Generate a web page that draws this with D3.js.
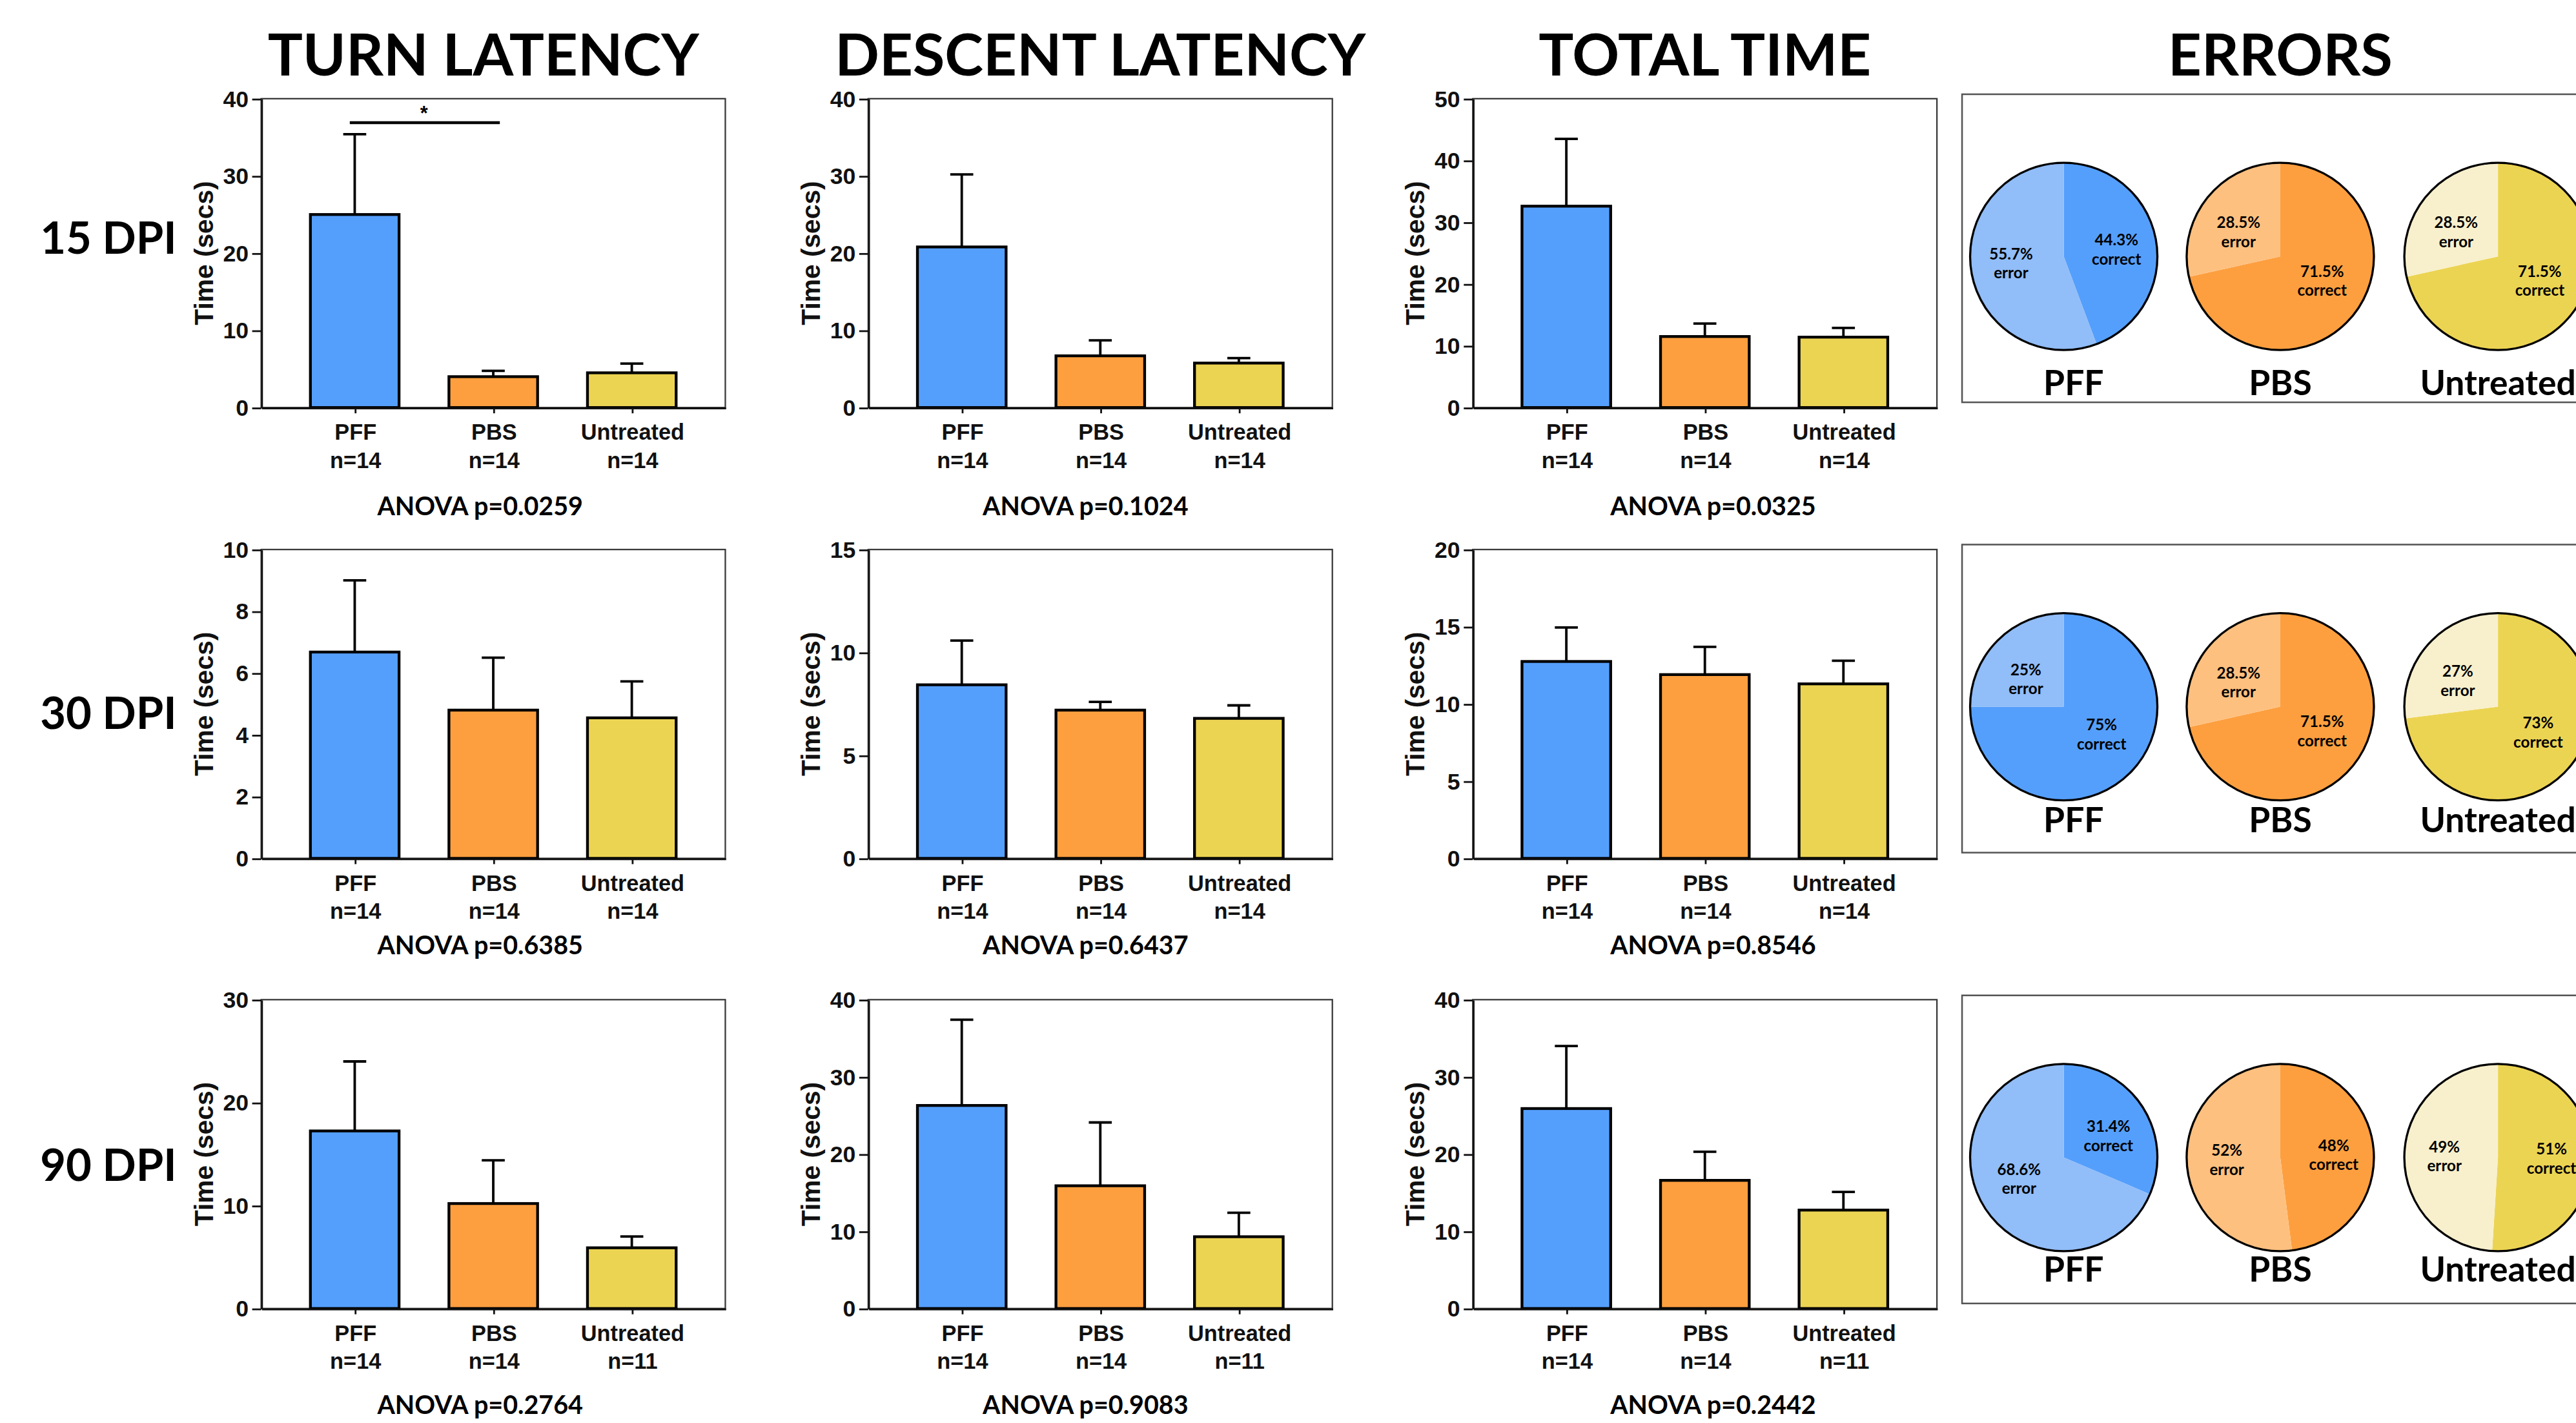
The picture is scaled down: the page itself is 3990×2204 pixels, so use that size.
<!DOCTYPE html>
<html>
<head>
<meta charset="utf-8">
<script src="https://cdn.jsdelivr.net/npm/d3@7"></script>
<style>
  html, body { margin: 0; padding: 0; background: #fff; }
  svg { display: block; }
</style>
</head>
<body>
<script>
// ---- data ----
var groups = ["PFF", "PBS", "Untreated"];
var timepoints = ["15 DPI", "30 DPI", "90 DPI"];
var measures = ["TURN LATENCY", "DESCENT LATENCY", "TOTAL TIME"];
var nLabels = [["n=14", "n=14", "n=14"], ["n=14", "n=14", "n=14"], ["n=14", "n=14", "n=11"]];

// rows = 15, 30, 90 DPI ; columns = PFF, PBS, Untreated
var turnMean = [[25.0, 4.0, 4.5], [6.68, 4.8, 4.55], [17.25, 10.2, 5.9]];
var turnSem = [[10.4, 0.75, 1.2], [2.32, 1.7, 1.18], [6.75, 4.2, 1.1]];
var descentMean = [[20.8, 6.7, 5.76], [8.43, 7.2, 6.8], [26.3, 15.9, 9.3]];
var descentSem = [[9.4, 2.0, 0.64], [2.15, 0.4, 0.63], [11.1, 8.2, 3.1]];
var totalMean = [[32.6, 11.5, 11.4], [12.75, 11.9, 11.3], [25.9, 16.6, 12.75]];
var totalSem = [[10.9, 2.1, 1.5], [2.2, 1.8, 1.5], [8.1, 3.7, 2.35]];

var yMax = [[40, 10, 30], [40, 15, 40], [50, 20, 40]];
var yStep = [[10, 2, 10], [10, 5, 10], [10, 5, 10]];
var anovaP = [["0.0259", "0.6385", "0.2764"], ["0.1024", "0.6437", "0.9083"], ["0.0325", "0.8546", "0.2442"]];
var sigBars = [{ measure: 0, row: 0, from: "PFF", to: "PBS", y: 36.9, label: "*" }];

var correctPct = [[44.3, 71.5, 71.5], [75, 71.5, 73], [31.4, 48, 51]];
var errorPct = [[55.7, 28.5, 28.5], [25, 28.5, 27], [68.6, 52, 49]];

var means = [turnMean, descentMean, totalMean];
var sems = [turnSem, descentSem, totalSem];

// ---- look ----
var barColors = ["#559ffc", "#fd9f3f", "#ecd453"];
var lightColors = ["#91bdf8", "#fec07f", "#f8f0cc"];
var axisFont = "'Liberation Sans', Arial, sans-serif";
var headFont = "Lato, 'Open Sans', sans-serif";

// layout in a 1568 x 866 frame, scaled up by the viewBox
var W = 1568, H = 866;
var colLeft = [159, 528.5, 896.5], plotW = 282.5;
var rowTop = [60, 334.4, 608.4], plotH = 188;
var anovaDx = [-8, -9, 5], anovaDy = [59.8, 52.6, 58.5];
var rowLabelY = [144.5, 434, 709];
var panelX = 1194.3, panelTop = [57.3, 331.4, 605.8], panelH = 187.5;
var pieCx = [1256.2, 1388, 1520.5], pieR = 57;
var pieDy = 98.7, pieLabelDy = [175.5, 167.5, 166.8];

var svg = d3.select("body").append("svg")
    .attr("width", 3990)
    .attr("height", 2204)
    .attr("viewBox", "0 0 " + W + " " + H);

// column titles
measures.forEach(function (t, m) {
    svg.append("text")
        .attr("x", colLeft[m] + plotW / 2 + (m === 0 ? -6 : 0))
        .attr("y", 33)
        .attr("dy", "0.36em")
        .attr("text-anchor", "middle")
        .style("font-family", headFont)
        .style("font-weight", 700)
        .style("font-size", "35.5px")
        .text(t);
});
svg.append("text")
    .attr("x", pieCx[1])
    .attr("y", 33)
    .attr("dy", "0.36em")
    .attr("text-anchor", "middle")
    .style("font-family", headFont)
    .style("font-weight", 700)
    .style("font-size", "35.5px")
    .text("ERRORS");

// row labels
timepoints.forEach(function (t, r) {
    svg.append("text")
        .attr("x", 66)
        .attr("y", rowLabelY[r])
        .attr("dy", "0.36em")
        .attr("text-anchor", "middle")
        .style("font-family", headFont)
        .style("font-weight", 700)
        .style("font-size", "27px")
        .text(t);
});

// bar charts
measures.forEach(function (mt, m) {
    timepoints.forEach(function (tp, r) {
        var g = svg.append("g")
            .attr("transform", "translate(" + colLeft[m] + "," + rowTop[r] + ")");

        var x = d3.scalePoint().domain(groups).range([0, plotW]).padding(0.675);
        var y = d3.scaleLinear().domain([0, yMax[m][r]]).range([plotH, 0]);
        var bw = x.step() * 0.64;

        var data = groups.map(function (d, i) {
            return { g: d, mean: means[m][r][i], sem: sems[m][r][i], color: barColors[i] };
        });

        g.append("rect")
            .attr("width", plotW)
            .attr("height", plotH)
            .attr("fill", "none")
            .attr("stroke", "#3a3a3a")
            .attr("stroke-width", 0.9);

        g.selectAll(".err")
            .data(data)
            .enter().append("path")
            .attr("d", function (d) {
                var top = y(d.mean + d.sem);
                return "M" + x(d.g) + "," + y(d.mean) + "V" + top +
                    "M" + (x(d.g) - 7) + "," + top + "H" + (x(d.g) + 7);
            })
            .attr("fill", "none")
            .attr("stroke", "#000")
            .attr("stroke-width", 1.5);

        g.selectAll(".bar")
            .data(data)
            .enter().append("rect")
            .attr("x", function (d) { return x(d.g) - bw / 2; })
            .attr("y", function (d) { return y(d.mean); })
            .attr("width", bw)
            .attr("height", function (d) { return plotH - y(d.mean); })
            .attr("fill", function (d) { return d.color; })
            .attr("stroke", "#000")
            .attr("stroke-width", 1.7);

        // y axis
        var ya = g.append("g")
            .call(d3.axisLeft(y)
                .tickValues(d3.range(0, yMax[m][r] + 0.001, yStep[m][r]))
                .tickSize(5.5)
                .tickSizeOuter(0)
                .tickPadding(2.2));
        ya.select(".domain").attr("stroke", "#111").attr("stroke-width", 1.1);
        ya.selectAll(".tick line").attr("stroke", "#111").attr("stroke-width", 1.1);
        ya.selectAll(".tick text")
            .attr("fill", "#111")
            .style("font-family", axisFont)
            .style("font-weight", "bold")
            .style("font-size", "14px");

        // x axis
        var xa = g.append("g")
            .attr("transform", "translate(0," + plotH + ")")
            .call(d3.axisBottom(x).tickSize(3.5).tickSizeOuter(0).tickPadding(5));
        xa.select(".domain").attr("stroke", "#111").attr("stroke-width", 1.1);
        xa.selectAll(".tick line").attr("stroke", "#111").attr("stroke-width", 1.1);
        xa.selectAll(".tick text")
            .attr("fill", "#111")
            .style("font-family", axisFont)
            .style("font-weight", "bold")
            .style("font-size", "13.5px")
            .text(null)
            .each(function (d, i) {
                var t = d3.select(this);
                t.append("tspan").attr("x", 0).attr("y", 15).attr("dy", "0.35em").text(d);
                t.append("tspan").attr("x", 0).attr("y", 32).attr("dy", "0.35em").text(nLabels[r][i]);
            });

        // y axis title
        g.append("text")
            .attr("transform", "translate(-35," + (plotH / 2) + ") rotate(-90)")
            .attr("dy", "0.35em")
            .attr("text-anchor", "middle")
            .attr("fill", "#111")
            .style("font-family", axisFont)
            .style("font-weight", "bold")
            .style("font-size", "16px")
            .text("Time (secs)");

        // ANOVA note
        g.append("text")
            .attr("x", plotW / 2 + anovaDx[m])
            .attr("y", plotH + anovaDy[r])
            .attr("dy", "0.36em")
            .attr("text-anchor", "middle")
            .style("font-family", headFont)
            .style("font-weight", 700)
            .style("font-size", "15.5px")
            .text("ANOVA p=" + anovaP[m][r]);

        // significance bars
        sigBars.filter(function (s) { return s.measure === m && s.row === r; })
            .forEach(function (s) {
                g.append("line")
                    .attr("x1", x(s.from) - 3)
                    .attr("x2", x(s.to) + 4)
                    .attr("y1", y(s.y))
                    .attr("y2", y(s.y))
                    .attr("stroke", "#000")
                    .attr("stroke-width", 1.8);
                g.append("text")
                    .attr("x", (x(s.from) + x(s.to)) / 2)
                    .attr("y", y(s.y) - 1.5)
                    .attr("text-anchor", "middle")
                    .style("font-family", axisFont)
                    .style("font-weight", "bold")
                    .style("font-size", "12px")
                    .text(s.label);
            });
    });
});

// error pies
var pie = d3.pie().sort(null).value(function (d) { return d.v; });
var arc = d3.arc().innerRadius(0).outerRadius(pieR);
var labelArc = d3.arc().innerRadius(pieR * 0.52).outerRadius(pieR * 0.52);

timepoints.forEach(function (tp, r) {
    svg.append("rect")
        .attr("x", panelX)
        .attr("y", panelTop[r])
        .attr("width", W - panelX + 20)
        .attr("height", panelH)
        .attr("fill", "none")
        .attr("stroke", "#555")
        .attr("stroke-width", 1);

    groups.forEach(function (grp, i) {
        var cy = panelTop[r] + pieDy;
        var slices = [
            { v: correctPct[r][i], name: "correct", color: barColors[i] },
            { v: errorPct[r][i], name: "error", color: lightColors[i] }
        ];
        var pg = svg.append("g").attr("transform", "translate(" + pieCx[i] + "," + cy + ")");
        var arcs = pie(slices);

        pg.selectAll("path")
            .data(arcs)
            .enter().append("path")
            .attr("d", arc)
            .attr("fill", function (d) { return d.data.color; });

        pg.append("circle")
            .attr("r", pieR)
            .attr("fill", "none")
            .attr("stroke", "#000")
            .attr("stroke-width", 1.3);

        var lab = pg.selectAll(".lab")
            .data(arcs)
            .enter().append("text")
            .attr("transform", function (d) {
                var c = labelArc.centroid(d);
                return "translate(" + (c[0] * 1.1) + "," + (c[1] * 0.8) + ")";
            })
            .attr("text-anchor", "middle")
            .style("font-family", headFont)
            .style("font-weight", 700)
            .style("font-size", "9.5px");
        lab.append("tspan").attr("x", 0).attr("y", -5.8).attr("dy", "0.35em")
            .text(function (d) { return d.data.v + "%"; });
        lab.append("tspan").attr("x", 0).attr("y", 5.8).attr("dy", "0.35em")
            .text(function (d) { return d.data.name; });

        svg.append("text")
            .attr("x", pieCx[i] + (i === 0 ? 6 : 0))
            .attr("y", panelTop[r] + pieLabelDy[r])
            .attr("dy", "0.36em")
            .attr("text-anchor", "middle")
            .style("font-family", headFont)
            .style("font-weight", 700)
            .style("font-size", "21px")
            .text(grp);
    });
});
</script>
</body>
</html>
